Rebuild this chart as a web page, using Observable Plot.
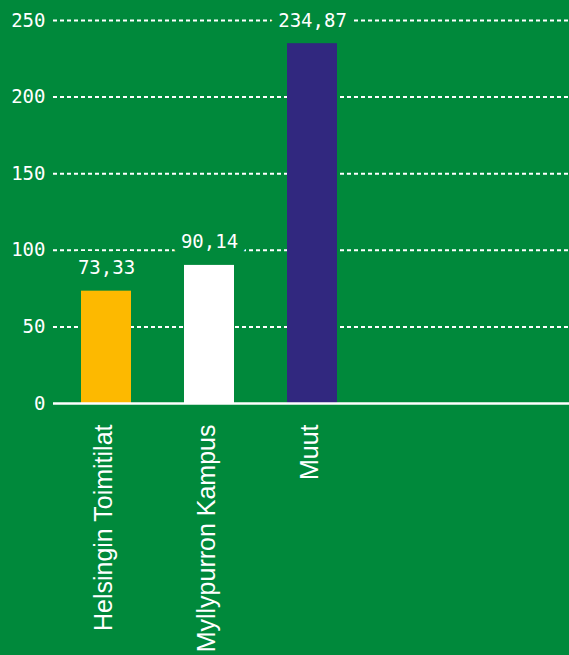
<!DOCTYPE html>
<html>
<head>
<meta charset="utf-8">
<script src="https://cdn.jsdelivr.net/npm/d3@7"></script>
<script src="https://cdn.jsdelivr.net/npm/@observablehq/plot@0.6"></script>
<style>
  html, body { margin: 0; padding: 0; background: #00893B; }
  #chart svg { display: block; }
</style>
</head>
<body>
<div id="chart"></div>
<script>
const categories = ["Helsingin Toimitilat", "Myllypurron Kampus", "Muut"];
const values = [73.33, 90.14, 234.87];
const barColors = ["#FDB900", "#FFFFFF", "#31287F"];
const emptySlots = ["__empty1", "__empty2"];
const yTicks = [0, 50, 100, 150, 200, 250];

const bg = "#00893B";
const numFont = "'DejaVu Sans Mono', monospace";
const data = categories.map((c, i) => ({category: c, value: values[i], color: barColors[i]}));
const fmt = v => v.toFixed(2).replace(".", ",");

const chart = Plot.plot({
  width: 569,
  height: 655,
  marginLeft: 55,
  marginRight: 0,
  marginTop: 20,
  marginBottom: 252,
  style: {background: bg, color: "white", overflow: "visible"},
  x: {domain: [...categories, ...emptySlots], paddingInner: 0.517, paddingOuter: 0.25, axis: null},
  y: {domain: [0, 250], axis: null},
  marks: [
    Plot.gridY(yTicks.filter(d => d > 0), {stroke: "white", strokeOpacity: 1, strokeWidth: 2, strokeDasharray: "4,3", insetLeft: -2}),
    Plot.barY(data, {x: "category", y: "value", fill: "color"}),
    Plot.ruleY([0], {stroke: "white", strokeWidth: 2.5, insetLeft: -2}),
    Plot.text(data, {x: "category", y: "value", text: d => fmt(d.value), dy: -23, fill: "white",
      stroke: bg, strokeWidth: 18, strokeLinejoin: "round", fontSize: 19, fontFamily: numFont}),
    Plot.axisY(yTicks, {tickSize: 0, tickPadding: 10, fontSize: 19, fontFamily: numFont, fill: "white", label: null}),
    Plot.axisX(categories, {tickSize: 0, tickPadding: 21, tickRotate: -90, dx: -3, fontSize: 25,
      fontFamily: "'Liberation Sans', Arial, sans-serif", fill: "white", label: null})
  ]
});
document.getElementById("chart").appendChild(chart);
</script>
</body>
</html>
